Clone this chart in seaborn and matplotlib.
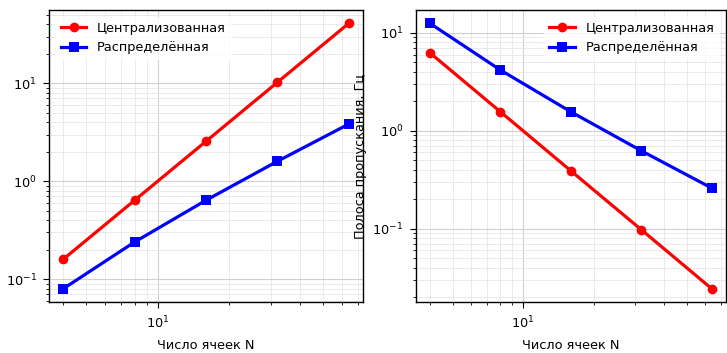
import pandas as pd
import seaborn as sns
import matplotlib
matplotlib.use("Agg")
import matplotlib.pyplot as plt

# cell counts and the two schemes
n_cells = [4, 8, 16, 32, 64]
series_names = ["Централизованная", "Распределённая"]

# left panel values
left_central = [0.16, 0.64, 2.56, 10.24, 40.96]
left_distrib = [0.08, 0.24, 0.64, 1.6, 3.84]

# right panel: bandwidth, Hz
right_central = [6.25, 1.5625, 0.39, 0.0977, 0.0244]
right_distrib = [12.5, 4.17, 1.5625, 0.625, 0.26]

xlabel = "Число ячеек N"
ylabel_right = "Полоса пропускания, Гц"


def long_df(central, distrib):
    return pd.DataFrame({
        "N": n_cells * 2,
        "value": central + distrib,
        "scheme": [series_names[0]] * len(n_cells) + [series_names[1]] * len(n_cells),
    })


# plain matplotlib look: black text, black frame
plt.rcParams['font.family'] = ['DejaVu Sans']
plt.rcParams['font.size'] = 9.3

fig = plt.figure(figsize=(7.27, 3.53), dpi=100)
ax1 = fig.add_axes([0.0674, 0.1445, 0.432, 0.827])
ax2 = fig.add_axes([0.572, 0.1445, 0.4264, 0.827])

palette = {series_names[0]: "#ff0000", series_names[1]: "#0000ff"}
markers = {series_names[0]: "o", series_names[1]: "s"}

for ax, c, d, loc in [(ax1, left_central, left_distrib, "upper left"),
                      (ax2, right_central, right_distrib, "upper right")]:
    df = long_df(c, d)
    sns.lineplot(data=df, x="N", y="value", hue="scheme", style="scheme",
                 palette=palette, markers=markers, dashes=False,
                 linewidth=2.3, markersize=7, markeredgewidth=0, ax=ax)
    ax.set_xscale("log")
    ax.set_yscale("log")
    ax.grid(True, which="major", color="#cfcfd4", linewidth=0.8)
    ax.grid(True, which="minor", color="#e6e6ea", linewidth=0.6)
    ax.set_axisbelow(True)
    ax.tick_params(which="major", length=4.5, pad=4.5)
    ax.tick_params(which="minor", length=2.5)
    ax.set_xlabel(xlabel, labelpad=6)
    ax.set_ylabel("")
    for s in ax.spines.values():
        s.set_linewidth(1.0)
    ax.legend(loc=loc, frameon=True, framealpha=0.8,
              edgecolor="white", handlelength=2)

ax2.set_ylabel(ylabel_right)

fig.savefig("out.png", dpi=100)
